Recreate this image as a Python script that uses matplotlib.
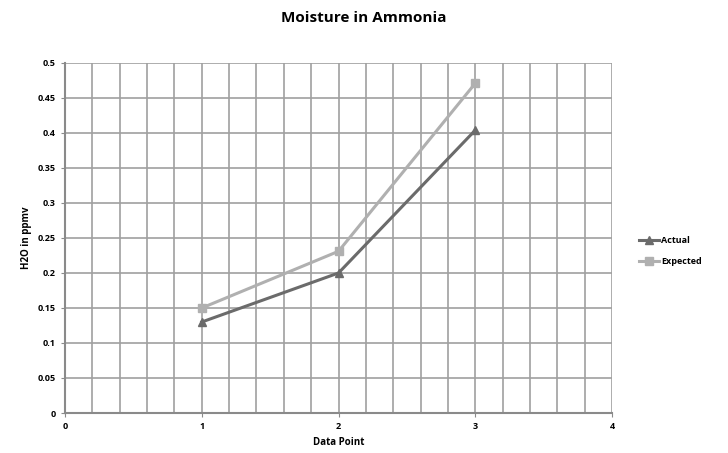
import matplotlib.pyplot as plt

data_point = [1, 2, 3]
actual = [0.13, 0.2, 0.404]
expected = [0.15, 0.231, 0.471]

plt.rcParams['font.family'] = ['Open Sans', 'DejaVu Sans']

fig = plt.figure(figsize=(7.28, 4.53), dpi=100)
ax = fig.add_axes([0.0893, 0.0883, 0.7514, 0.7727])

ax.plot(data_point, actual, color="#6b6b6b", linewidth=2.2, marker='^', markersize=6, label="Actual")
ax.plot(data_point, expected, color="#b0b0b0", linewidth=2.2, marker='s', markersize=6, label="Expected")

ax.set_xlim(0, 4)
ax.set_ylim(0, 0.5)
ax.set_xticks([0, 1, 2, 3, 4])
ax.set_xticks([i * 0.2 for i in range(21)], minor=True)
ax.set_yticks([i * 0.05 for i in range(11)])
ax.set_yticklabels(['0', '0.05', '0.1', '0.15', '0.2', '0.25', '0.3', '0.35', '0.4', '0.45', '0.5'])
ax.grid(True, which='both', color="#a0a0a0", linewidth=1.2)
ax.set_axisbelow(True)
ax.tick_params(which='major', length=3, color="#8a8a8a", labelsize=6.5)
ax.tick_params(which='minor', length=0)
for lbl in ax.get_xticklabels() + ax.get_yticklabels():
    lbl.set_fontweight('bold')

for s in ['top', 'right']:
    ax.spines[s].set_visible(False)
for s in ['left', 'bottom']:
    ax.spines[s].set_color("#8a8a8a")
    ax.spines[s].set_linewidth(1.5)

ax.set_xlabel("Data Point", fontsize=7, fontweight='bold')
ax.set_ylabel("H2O in ppmv", fontsize=7, fontweight='bold')
fig.suptitle("Moisture in Ammonia", fontsize=11, fontweight='bold', y=0.975)

ax.legend(loc='center left', bbox_to_anchor=(1.035, 0.463), frameon=False,
          handlelength=2.2, labelspacing=1.3, handletextpad=0.2,
          prop={'weight': 'bold', 'size': 6.5})

fig.savefig("out.png", dpi=100)
